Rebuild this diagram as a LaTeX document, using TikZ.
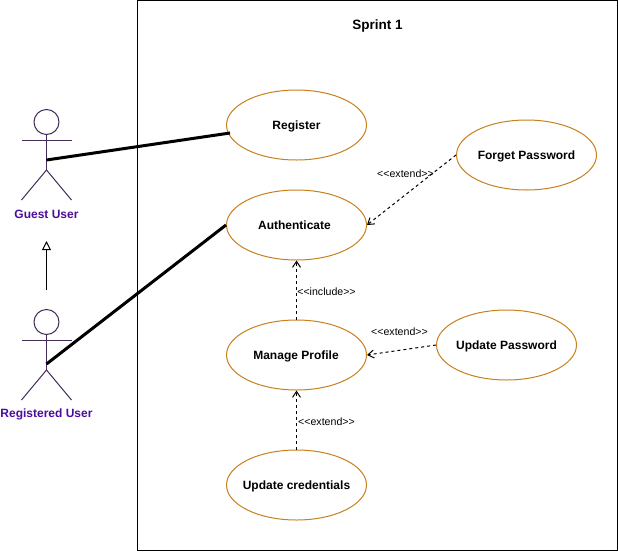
\documentclass[tikz,border=0pt]{standalone}
\usepackage{fontspec}
\setmainfont[Ligatures=NoCommon]{Liberation Sans}
\usetikzlibrary{arrows.meta,shapes.geometric}
\definecolor{ucorange}{HTML}{C8811E}
\definecolor{actorline}{HTML}{432D57}
\definecolor{actortext}{HTML}{4C0C9C}
\newcommand{\uclabel}[1]{\raisebox{-4.3pt}[0pt][0pt]{\makebox[0pt]{#1}}}
\newcommand{\stereo}[1]{{<}{<}#1{>}{>}}
\tikzset{
  usecase/.style={draw=ucorange,fill=white,ellipse,line width=1pt,minimum width=140pt,minimum height=70pt,inner sep=0pt,font=\bfseries\fontsize{12}{14}\selectfont},
  actorpart/.style={draw=actorline,line width=1pt},
  actorname/.style={text=actortext,font=\bfseries\fontsize{12}{14}\selectfont,inner sep=0pt},
  assoc/.style={line width=3pt,black},
  dep/.style={dashed,dash pattern=on 3pt off 3pt,line width=1pt,-{Straight Barb[length=6pt,width=8pt]}},
  deplabel/.style={font=\fontsize{10.6}{12}\selectfont,inner sep=0pt},
  gen/.style={line width=1pt,-{Triangle[open,length=9pt,width=9pt]}},
  title/.style={font=\bfseries\fontsize{13.5}{15}\selectfont,inner sep=0pt}
}
\begin{document}
\begin{tikzpicture}[x=1pt,y=-1pt]
\useasboundingbox (0,0) rectangle (618,552);
\fill[white] (0,0) rectangle (618,552);
\node[draw=black,line width=1pt,minimum width=480pt,minimum height=550pt,inner sep=0pt] (sprint) at (377.5,275.5) {};
\node[title] (sprinttitle) at (377.5,26) {Sprint 1};
% guest actor
\node[draw=actorline,line width=1pt,circle,minimum width=25pt,inner sep=0pt] (ghead) at (46.5,122) {};
\coordinate (ghip) at (46.5,170);
\coordinate (gmid) at (46.5,160);
\draw[actorpart] (ghead.south) -- (ghip);
\draw[actorpart] (21.5,140) -- (71.5,140);
\draw[actorpart] (21.5,200) -- (ghip) -- (71.5,200);
\node[actorname] (gname) at (46.5,214) {Guest User};
% registered actor
\node[draw=actorline,line width=1pt,circle,minimum width=25pt,inner sep=0pt] (rhead) at (46.5,322) {};
\coordinate (rhip) at (46.5,370);
\coordinate (rmid) at (46.5,364);
\coordinate (rtop) at (46.5,290);
\coordinate (gbot) at (46.5,241);
\draw[actorpart] (rhead.south) -- (rhip);
\draw[actorpart] (21.5,340) -- (71.5,340);
\draw[actorpart] (21.5,400) -- (rhip) -- (71.5,400);
\node[actorname] (rname) at (46.5,414) {Registered User};
% use cases
\node[usecase] (register) at (296.5,125) {\uclabel{Register}};
\node[usecase] (auth) at (296.5,225) {\uclabel{Authenticate\hspace*{4pt}}};
\node[usecase] (profile) at (296.5,355) {\uclabel{Manage Profile\hspace*{1pt}}};
\node[usecase] (cred) at (296.5,485) {\uclabel{Update credentials}};
\node[usecase] (forget) at (526.5,155) {\uclabel{Forget Password}};
\node[usecase] (update) at (506.5,345) {\uclabel{Update Password}};
\coordinate (regpt) at (230,133);
% connectors
\draw[gen] (rtop) -- (gbot);
\draw[assoc] (gmid) -- (regpt);
\draw[assoc] (rmid) -- (auth.west);
\draw[dep] (forget.west) -- (auth.east);
\draw[dep] (update.west) -- (profile.east);
\draw[dep] (profile.north) -- (auth.south);
\draw[dep] (cred.north) -- (profile.south);
% labels
\node[deplabel] (l1) at (405.5,173.5) {\stereo{extend}};
\node[deplabel] (l2) at (399.5,331.5) {\stereo{extend}};
\node[deplabel] (l3) at (326.5,291.5) {\stereo{include}};
\node[deplabel] (l4) at (326.5,421.5) {\stereo{extend}};
\end{tikzpicture}
\end{document}
